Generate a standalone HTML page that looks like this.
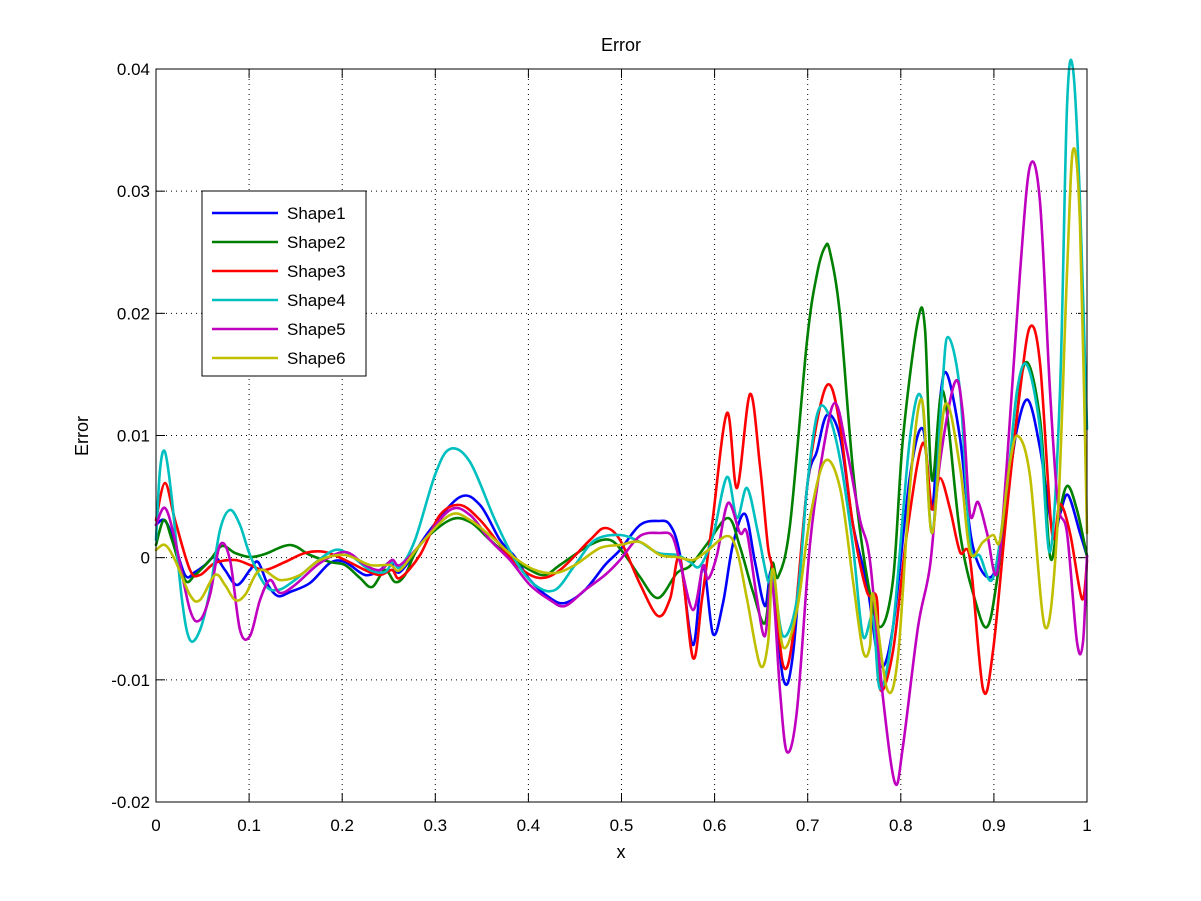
<!DOCTYPE html>
<html><head><meta charset="utf-8"><style>
html,body{margin:0;padding:0;background:#fff;}
svg{display:block;font-family:"Liberation Sans",sans-serif;}
</style></head><body>
<svg id="s" width="1201" height="901" viewBox="0 0 1201 901" xmlns="http://www.w3.org/2000/svg">
<rect width="1201" height="901" fill="#fff"/>
<g id="grid" stroke="#000" stroke-width="1" stroke-dasharray="1,4"></g>
<g id="ticks" stroke="#000" stroke-width="1"></g>
<g id="lbl" font-size="17" fill="#000"></g>
<g id="series" fill="none" stroke-width="2.6" stroke-linejoin="round" stroke-linecap="round"></g>
<rect x="156" y="69" width="931" height="733" fill="none" stroke="#000" stroke-width="1"/>
<text x="621" y="51" font-size="18" text-anchor="middle">Error</text>
<text x="621" y="858" font-size="18" text-anchor="middle">x</text>
<text x="0" y="0" font-size="18" text-anchor="middle" transform="translate(88,436) rotate(-90)">Error</text>
<g id="legend"></g>
</svg>
<script>
var NS="http://www.w3.org/2000/svg";
function el(t,a,p,txt){var e=document.createElementNS(NS,t);for(var k in a)e.setAttribute(k,a[k]);if(txt!==undefined)e.textContent=txt;document.getElementById(p).appendChild(e);return e;}
var X0=156,X1=1087,Y0=69,Y1=802;
for(var i=0;i<=10;i++){var x=X0+(X1-X0)*i/10;
 if(i>0&&i<10)el('line',{x1:x,y1:Y0,x2:x,y2:Y1},'grid');
 el('line',{x1:x,y1:Y1,x2:x,y2:Y1-9},'ticks');el('line',{x1:x,y1:Y0,x2:x,y2:Y0+9},'ticks');
 var l=(i==0)?'0':(i==10?'1':'0.'+i);
 el('text',{x:x,y:831,'text-anchor':'middle'},'lbl',l);}
var yl=['0.04','0.03','0.02','0.01','0','-0.01','-0.02'];
for(var j=0;j<=6;j++){var y=Y0+(Y1-Y0)*j/6;
 if(j>0&&j<6)el('line',{x1:X0,y1:y,x2:X1,y2:y},'grid');
 el('line',{x1:X0,y1:y,x2:X0+9,y2:y},'ticks');el('line',{x1:X1,y1:y,x2:X1-9,y2:y},'ticks');
 el('text',{x:150,y:y+6,'text-anchor':'end'},'lbl',yl[j]);}
var S={
'#0000ff':[[156,525],[164,520],[172,535],[185,575],[195,572],[205,565],[215,557],[225,570],[237,585],[250,570],[258,562],[268,585],[278,596],[290,592],[310,583],[330,563],[345,562],[365,575],[380,570],[390,562],[395,570],[400,572],[410,560],[430,530],[460,497],[480,505],[500,540],[515,557],[530,580],[550,598],[565,603],[585,590],[605,565],[620,550],[640,525],[658,521],[670,525],[680,555],[693,645],[703,566],[713,634],[723,603],[733,544],[745,514],[755,562],[765,606],[772,573],[783,678],[793,654],[807,488],[817,451],[827,415],[840,437],[853,525],[867,584],[880,665],[893,627],[910,476],[923,429],[932,509],[940,400],[947,374],[960,438],[973,547],[993,575],[1007,495],[1017,429],[1028,400],[1040,448],[1053,533],[1060,514],[1068,495],[1080,533],[1087,556]],
'#008000':[[156,545],[164,520],[172,540],[185,580],[195,575],[210,560],[222,546],[235,553],[250,557],[265,554],[290,545],[310,555],[330,562],[345,565],[360,578],[372,587],[385,570],[395,582],[405,575],[420,545],[450,520],[470,522],[490,540],[510,557],[530,570],[545,575],[560,565],[590,545],[610,540],[625,555],[640,577],[658,598],[677,573],[690,566],[707,544],[728,518],[740,547],[753,592],[765,623],[772,564],[778,577],[790,525],[807,341],[817,274],[825,247],[830,252],[840,315],[853,470],[867,577],[880,627],[893,580],[903,438],[918,320],[925,329],[932,480],[943,391],[960,533],[975,600],[987,627],[997,580],[1012,460],[1025,363],[1040,419],[1050,556],[1058,520],[1067,486],[1077,510],[1087,556]],
'#ff0000':[[156,520],[165,483],[175,520],[190,570],[200,575],[215,563],[235,560],[250,565],[265,570],[285,562],[305,553],[325,552],[345,560],[365,570],[380,575],[392,570],[400,578],[420,555],[440,515],[460,505],[480,520],[500,545],[520,568],[540,578],[560,570],[590,540],[605,528],[620,540],[640,584],[658,616],[670,599],[680,558],[693,658],[702,599],[712,525],[727,413],[737,488],[750,394],[760,466],[768,547],[773,573],[783,665],[793,636],[807,488],[820,407],[830,385],[840,426],[853,525],[867,592],[877,600],[880,689],[893,651],[907,533],[923,443],[932,509],[940,478],[950,509],[960,552],[970,559],[983,689],[993,651],[1007,509],[1020,391],[1030,327],[1040,363],[1052,533],[1060,504],[1070,533],[1082,599],[1087,561]],
'#00bfbf':[[156,540],[160,470],[165,452],[172,500],[182,600],[190,640],[200,630],[210,590],[220,530],[230,510],[240,525],[250,555],[265,585],[278,590],[295,580],[315,563],[335,550],[350,555],[370,570],[385,572],[393,562],[400,567],[415,540],[435,475],[450,449],[470,462],[495,520],[515,560],[535,585],[555,590],[575,565],[595,540],[620,535],[640,542],[658,553],[677,555],[690,562],[700,566],[713,536],[727,477],[737,518],[747,488],[758,533],[768,581],[773,573],[783,636],[797,599],[807,488],[817,415],[827,411],[840,459],[853,547],[863,636],[873,617],[880,689],[893,627],[910,438],[922,400],[932,533],[942,391],[948,337],[960,391],[970,542],[980,556],[993,578],[1007,486],[1017,391],[1027,365],[1040,429],[1050,552],[1060,391],[1067,107],[1073,69],[1080,202],[1087,429]],
'#bf00bf':[[156,525],[165,508],[175,540],[190,610],[200,620],[210,595],[220,545],[230,560],[240,630],[250,636],[260,600],[270,580],[280,593],[295,585],[320,563],[345,552],[365,565],[380,570],[392,560],[400,565],[420,545],[450,510],[470,515],[490,540],[510,560],[530,585],[550,600],[565,606],[585,590],[605,575],[620,560],[640,536],[660,533],[672,536],[680,562],[693,610],[703,566],[708,579],[717,555],[728,503],[740,533],[747,533],[757,599],[765,636],[772,581],[780,691],[787,752],[797,710],[810,544],[823,451],[835,403],[847,451],[860,520],[870,561],[883,698],[895,783],[903,746],[918,627],[930,566],[940,462],[955,382],[963,415],[970,514],[978,502],[987,533],[997,573],[1007,462],[1020,273],[1030,166],[1040,202],[1050,391],[1058,504],[1067,533],[1077,642],[1083,642],[1087,556]],
'#bfbf00':[[156,550],[165,545],[175,560],[190,595],[200,600],[215,575],[225,585],[235,600],[245,595],[260,570],[280,580],[300,575],[320,560],[345,555],[370,565],[390,565],[400,570],[420,545],[450,515],[470,520],[495,540],[515,558],[535,570],[555,573],[575,565],[600,548],[620,545],[640,542],[660,555],[677,557],[693,560],[707,551],[727,536],[737,551],[747,599],[760,665],[768,643],[773,569],[783,647],[797,610],[810,518],[825,461],[840,488],[853,581],[863,651],[870,646],[873,594],[887,689],[898,656],[910,486],[922,400],[932,533],[945,405],[960,467],[970,552],[983,542],[993,535],[1000,540],[1010,462],[1018,436],[1030,476],[1045,627],[1057,533],[1067,273],[1073,150],[1080,225],[1087,533]]
};
function path(p){var d='M'+p[0][0]+','+p[0][1];
 for(var i=0;i<p.length-1;i++){var a=p[i-1]||p[i],b=p[i],c=p[i+1],e=p[i+2]||c;
  var c1x=b[0]+(c[0]-a[0])/6,c1y=b[1]+(c[1]-a[1])/6,c2x=c[0]-(e[0]-b[0])/6,c2y=c[1]-(e[1]-b[1])/6;
  d+=' C'+c1x.toFixed(1)+','+c1y.toFixed(1)+' '+c2x.toFixed(1)+','+c2y.toFixed(1)+' '+c[0]+','+c[1];}
 return d;}
for(var c in S)el('path',{d:path(S[c]),stroke:c},'series');
el('rect',{x:202,y:191,width:164,height:185,fill:'#fff',stroke:'#000','stroke-width':1},'legend');
var cols=['#0000ff','#008000','#ff0000','#00bfbf','#bf00bf','#bfbf00'];
for(var k=0;k<6;k++){var y=213+k*29;
 el('line',{x1:212,y1:y,x2:278,y2:y,stroke:cols[k],'stroke-width':2.6},'legend');
 el('text',{x:287,y:y+6,'font-size':17},'legend','Shape'+(k+1));}
</script>
</body></html>
